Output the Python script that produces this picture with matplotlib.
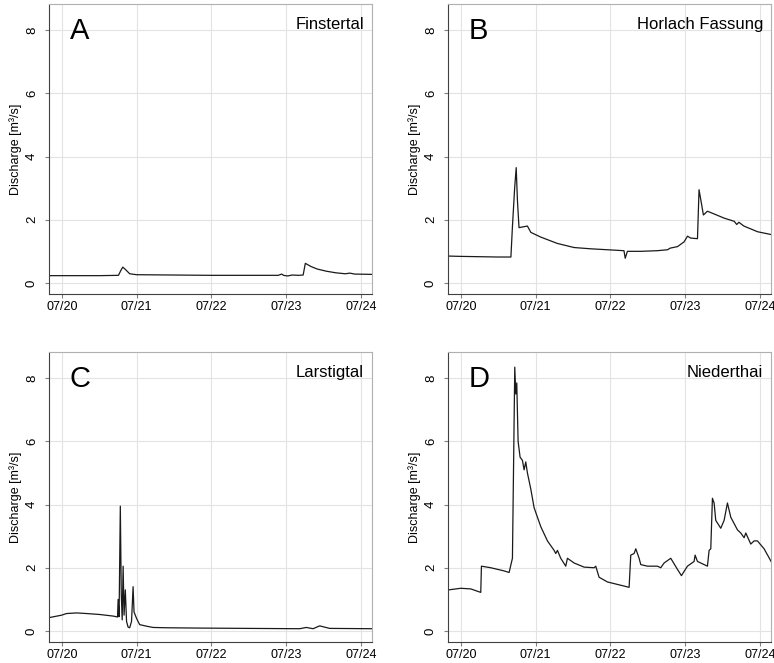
import numpy as np
import pandas as pd
import matplotlib.pyplot as plt
import matplotlib.dates as mdates

plt.rcParams['font.family'] = ['Liberation Sans', 'DejaVu Sans']

# hours since 07/20 00:00 and discharge [m3/s]
fin_h = [-4.1, 0, 6, 12, 18.2, 19.0, 19.6, 20.5, 21.8, 24, 36, 48, 60, 69.5, 70.6, 71.2, 72.5, 74, 76, 77.5,
         78.2, 80, 82, 85, 88, 91, 92.5, 94, 99.6]
fin_q = [0.23, 0.23, 0.23, 0.23, 0.24, 0.40, 0.50, 0.42, 0.29, 0.26, 0.25, 0.24, 0.24, 0.24, 0.28, 0.24, 0.22, 0.25,
         0.24, 0.25, 0.62, 0.52, 0.44, 0.37, 0.32, 0.29, 0.31, 0.28, 0.27]

hor_h = [-3.9, 0, 6, 12, 16.1, 16.6, 17.3, 17.8, 18.2, 18.7, 20.3, 21.4, 22.5, 25.7, 31, 36.4, 41.7, 47.1, 52.4,
         52.8, 53.5, 57.8, 63.1, 66.4, 67.2, 69.6, 71.7, 72.8, 73.8, 76.0, 76.5, 77.3, 77.9, 79.2, 84.6, 87.8,
         88.6, 89.3, 90.9, 95.3, 99.7]
hor_q = [0.85, 0.84, 0.83, 0.82, 0.82, 1.8, 3.0, 3.65, 2.6, 1.75, 1.78, 1.80, 1.60, 1.45, 1.25, 1.12, 1.08, 1.05,
         1.02, 0.78, 1.00, 1.00, 1.02, 1.05, 1.10, 1.15, 1.30, 1.48, 1.42, 1.40, 2.95, 2.50, 2.15, 2.27, 2.05,
         1.95, 1.85, 1.92, 1.80, 1.62, 1.53]

lar_h = [-4.1, 0, 1.5, 4.7, 8, 12.2, 16.5, 17.5, 17.9, 18.1, 18.4, 18.8, 19.1, 19.4, 19.7, 20.0, 20.4, 20.8, 21.3,
         21.8, 22.4, 22.9, 23.2, 24, 25, 27.2, 29.3, 33.6, 44.3, 60, 76.4, 78.5, 80.7, 82.8, 86, 99.6]
lar_q = [0.42, 0.50, 0.55, 0.57, 0.55, 0.52, 0.47, 0.45, 0.44, 1.00, 0.45, 3.95, 1.20, 0.35, 2.05, 0.50, 1.30,
         0.30, 0.12, 0.10, 0.30, 1.40, 0.60, 0.40, 0.20, 0.15, 0.11, 0.10, 0.09, 0.08, 0.07, 0.11, 0.07, 0.16,
         0.08, 0.07]

nie_h = [-3.85, 0, 3.21, 6.42, 6.64, 9.63, 13.91, 15.52, 16.59, 17.34, 17.66, 17.98, 18.41, 19.05, 19.8, 20.33,
         20.87, 21.4, 22.47, 23.55, 25.69, 27.83, 29.97, 30.5, 31.04, 32.1, 33.71, 34.25, 36.39, 39.6, 42.81,
         43.34, 44.41, 47.09, 52.44, 54.05, 54.58, 55.65, 56.19, 57.26, 57.79, 59.93, 63.14, 64.21, 65.28, 67.42,
         69.56, 70.85, 72.78, 74.92, 75.24, 75.99, 79.2, 79.73, 80.27, 80.8, 81.34, 81.87, 83.48, 84.55, 85.62,
         86.69, 88.83, 89.9, 90.97, 91.51, 93.11, 94.18, 95.25, 97.39, 99.75]
nie_q = [1.30, 1.35, 1.33, 1.22, 2.05, 2.00, 1.90, 1.85, 2.30, 8.35, 7.50, 7.85, 6.00, 5.50, 5.40, 5.10,
         5.35, 5.00, 4.50, 3.90, 3.30, 2.85, 2.55, 2.45, 2.55, 2.30, 2.05, 2.30, 2.15, 2.02, 2.00,
         2.05, 1.70, 1.55, 1.42, 1.38, 2.40, 2.45, 2.60, 2.30, 2.10, 2.05, 2.05, 2.00, 2.15, 2.30,
         1.95, 1.75, 2.05, 2.20, 2.40, 2.20, 2.05, 2.55, 2.60, 4.20, 4.05, 3.50, 3.25, 3.50, 4.05,
         3.60, 3.20, 3.10, 2.95, 3.10, 2.75, 2.85, 2.85, 2.60, 2.18]

panels = [('A', 'Finstertal', fin_h, fin_q),
          ('B', 'Horlach Fassung', hor_h, hor_q),
          ('C', 'Larstigtal', lar_h, lar_q),
          ('D', 'Niederthai', nie_h, nie_q)]

start = pd.Timestamp('2016-07-20')
ticks = pd.date_range('2016-07-20', '2016-07-24', freq='D')

fig = plt.figure(figsize=(7.74, 6.63), dpi=100)
lefts = [0.0633, 0.5788]
bottoms = [0.5566, 0.0317]
w, h = 0.4173, 0.4374

for i, (letter, name, hrs, q) in enumerate(panels):
    ax = fig.add_axes([lefts[i % 2], bottoms[i // 2], w, h])
    t = start + pd.to_timedelta(np.array(hrs), unit='h')
    ax.plot(t, q, color='#1a1a1a', lw=0.9)

    ax.set_xlim(start - pd.Timedelta(hours=4.1), start + pd.Timedelta(hours=99.6))
    ax.set_ylim(-0.35, 8.83)
    ax.set_xticks(ticks)
    ax.xaxis.set_major_formatter(mdates.DateFormatter('%m/%d'))
    ax.set_yticks([0, 2, 4, 6, 8])
    ax.grid(True, color='#e3e3e3', lw=0.8)
    ax.set_axisbelow(True)

    for s in ['top', 'right']:
        ax.spines[s].set_color('#b0b0b0')
    for s in ['left', 'bottom']:
        ax.spines[s].set_color('#404040')
    ax.tick_params(axis='x', length=3, color='#808080', labelsize=9, pad=2)
    ax.tick_params(axis='y', length=3, color='#808080', labelsize=9.5, pad=5)
    for lab in ax.get_yticklabels():
        lab.set_rotation(90)
        lab.set_va('center')
    ax.set_ylabel('Discharge [m³/s]', fontsize=9, labelpad=3)

    ax.text(0.065, 0.955, letter, transform=ax.transAxes, fontsize=21, va='top', ha='left')
    ax.text(0.975, 0.955, name, transform=ax.transAxes, fontsize=12, va='top', ha='right')

fig.savefig('out.png', dpi=100)
